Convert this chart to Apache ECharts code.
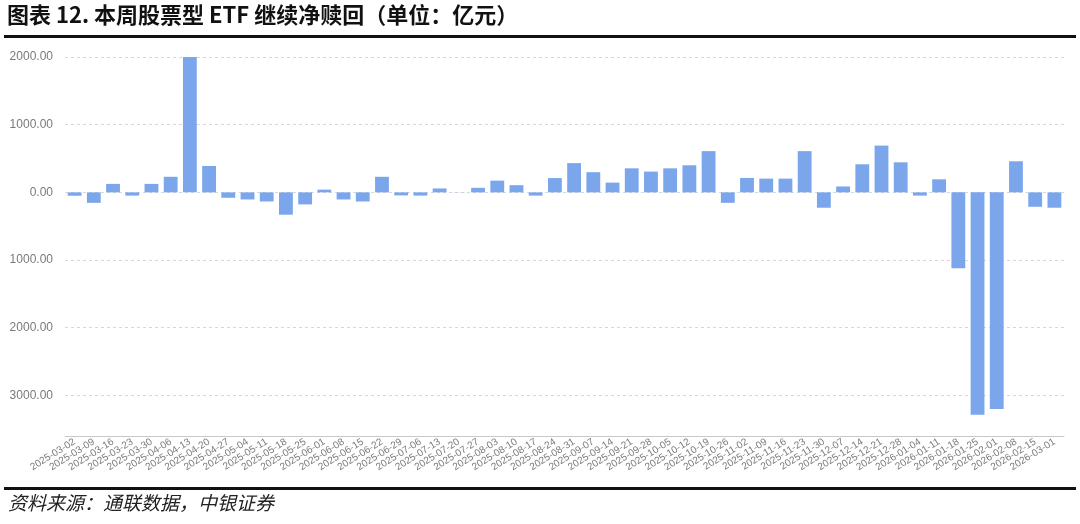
<!DOCTYPE html>
<html>
<head>
<meta charset="utf-8">
<script src="https://cdn.jsdelivr.net/npm/echarts@6/dist/echarts.min.js"></script>
<style>
html,body{margin:0;padding:0;background:#fff;}
#c{width:1080px;height:524px;}
</style>
</head>
<body>
<div id="c"></div>
<script>
const categories = [
  '2025-03-02','2025-03-09','2025-03-16','2025-03-23','2025-03-30',
  '2025-04-06','2025-04-13','2025-04-20','2025-04-27',
  '2025-05-04','2025-05-11','2025-05-18','2025-05-25',
  '2025-06-01','2025-06-08','2025-06-15','2025-06-22','2025-06-29',
  '2025-07-06','2025-07-13','2025-07-20','2025-07-27',
  '2025-08-03','2025-08-10','2025-08-17','2025-08-24','2025-08-31',
  '2025-09-07','2025-09-14','2025-09-21','2025-09-28',
  '2025-10-05','2025-10-12','2025-10-19','2025-10-26',
  '2025-11-02','2025-11-09','2025-11-16','2025-11-23','2025-11-30',
  '2025-12-07','2025-12-14','2025-12-21','2025-12-28',
  '2026-01-04','2026-01-11','2026-01-18','2026-01-25',
  '2026-02-01','2026-02-08','2026-02-15','2026-03-01'
];
const netFlow = [
  -50, -155, 125, -48, 125,
  230, 2000, 390, -80,
  -105, -135, -330, -178,
  40, -105, -135, 230, -45,
  -48, 58, 2, 67,
  173, 106, -48, 211, 432,
  298, 144, 355, 307,
  355, 400, 609, -155,
  213, 203, 203, 609, -227,
  87, 415, 691, 444,
  -48, 193, -1121, -3285,
  -3200, 459, -213, -227
];
const titleText = '图表 12. 本周股票型 ETF 继续净赎回（单位：亿元）';
const sourceText = '资料来源：通联数据，中银证券';

const chart = echarts.init(document.getElementById('c'), null, {renderer: 'canvas'});
chart.setOption({
  animation: false,
  backgroundColor: '#fff',
  grid: {left: 65, right: 16, top: 57, bottom: 88, containLabel: false},
  xAxis: {
    type: 'category',
    data: categories,
    axisLine: {show: true, onZero: false, lineStyle: {color: '#c8c8c8', width: 1}},
    axisTick: {show: false},
    axisLabel: {
      interval: 0, rotate: 32, fontSize: 10, color: '#7a7a7a',
      fontFamily: 'Liberation Sans, Arial, sans-serif', margin: 5
    },
    splitLine: {show: false}
  },
  yAxis: {
    type: 'value',
    min: -3600, max: 2000, interval: 200,
    axisLine: {show: false},
    axisTick: {show: false},
    axisLabel: {
      fontSize: 12, color: '#7a7a7a', margin: 12,
      fontFamily: 'Liberation Sans, Arial, sans-serif',
      formatter: function (v) { return (Math.round(v) % 1000 === 0) ? Math.abs(v).toFixed(2) : ''; }
    },
    splitLine: {
      show: true,
      lineStyle: {
        type: [3, 3],
        color: ['rgba(0,0,0,0)','rgba(0,0,0,0)','rgba(0,0,0,0)','#d8d8d8','rgba(0,0,0,0)'],
        width: 1
      }
    }
  },
  series: [{
    type: 'bar',
    data: netFlow,
    barWidth: '72%',
    itemStyle: {color: '#7ba6ec'}
  }],
  graphic: [
    {type: 'text', left: 7, top: 4, style: {text: titleText, font: 'bold 22px "Noto Sans CJK SC", sans-serif', fill: '#111'}},
    {type: 'rect', shape: {x: 4, y: 35, width: 1072, height: 3}, style: {fill: '#111'}},
    {type: 'rect', shape: {x: 4, y: 487, width: 1072, height: 3}, style: {fill: '#111'}},
    {type: 'text', left: 8, top: 493, style: {text: sourceText, font: 'italic 19px "Noto Sans CJK SC", sans-serif', fill: '#222'}}
  ]
});
</script>
</body>
</html>
